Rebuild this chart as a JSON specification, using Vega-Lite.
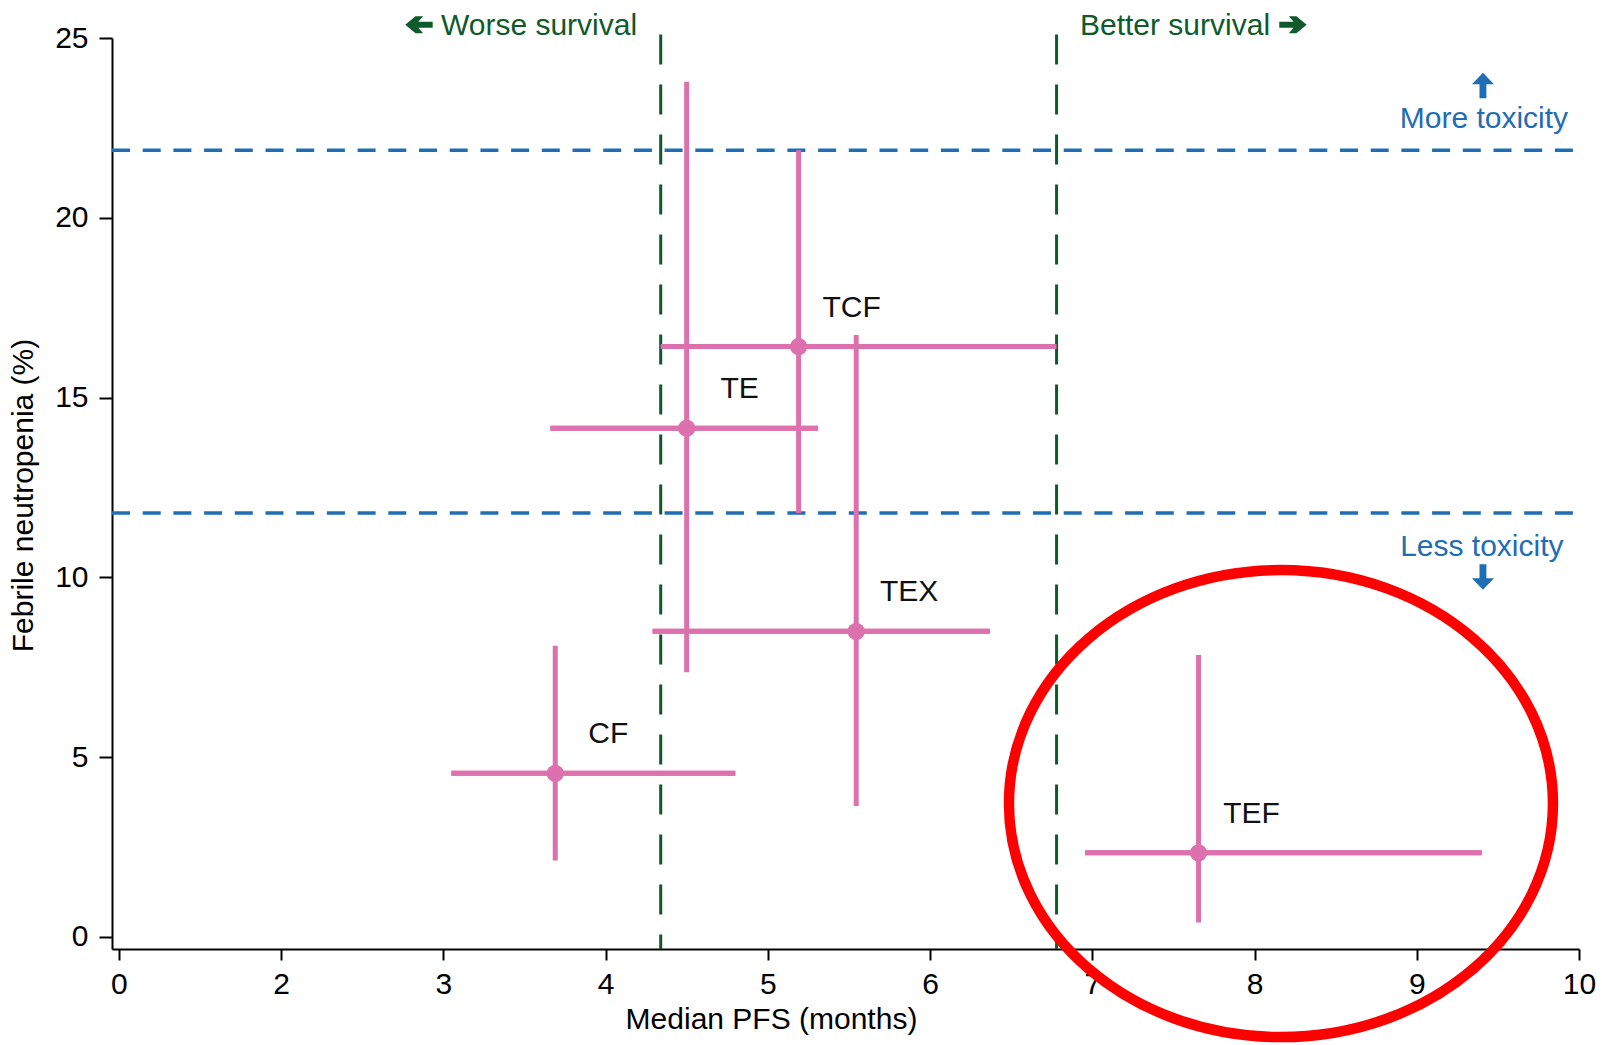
{
  "$schema": "https://vega.github.io/schema/vega-lite/v6.json",
  "width": 1467,
  "height": 911,
  "autosize": {"type": "none"},
  "padding": {"left": 112, "top": 38, "right": 23, "bottom": 96},
  "background": "white",
  "config": {
    "view": {"stroke": null},
    "font": "Liberation Sans",
    "axis": {
      "grid": false,
      "domainColor": "#000000",
      "domainWidth": 2,
      "tickColor": "#000000",
      "tickWidth": 2,
      "labelColor": "#000000",
      "labelFont": "Liberation Sans",
      "labelFontSize": 30,
      "labelFlush": false,
      "labelOverlap": false,
      "titleFont": "Liberation Sans",
      "titleFontSize": 30,
      "titleFontWeight": "normal",
      "titleColor": "#000000"
    }
  },
  "datasets": {
    "trials": [
      {"regimen": "TCF", "pfs": 5.19, "fn": 16.42, "pfs_lo": 4.34, "pfs_hi": 6.78, "fn_lo": 11.79, "fn_hi": 21.88},
      {"regimen": "TE", "pfs": 4.5, "fn": 14.15, "pfs_lo": 3.66, "pfs_hi": 5.31, "fn_lo": 7.36, "fn_hi": 23.78},
      {"regimen": "TEX", "pfs": 5.545, "fn": 8.5, "pfs_lo": 4.29, "pfs_hi": 6.37, "fn_lo": 3.64, "fn_hi": 16.74},
      {"regimen": "CF", "pfs": 3.69, "fn": 4.55, "pfs_lo": 3.05, "pfs_hi": 4.8, "fn_lo": 2.13, "fn_hi": 8.1},
      {"regimen": "TEF", "pfs": 7.655, "fn": 2.34, "pfs_lo": 6.955, "pfs_hi": 9.4, "fn_lo": 0.4, "fn_hi": 7.84}
    ],
    "survivalRef": [{"pfs": 4.34}, {"pfs": 6.78}],
    "toxicityRef": [{"fn": 11.79}, {"fn": 21.88}],
    "highlight": [{"pfs": 8.163, "fn": 3.71}],
    "survivalNotes": [
      {"note": "Worse survival", "pfs": 3.59, "fn": 25.08},
      {"note": "Better survival", "pfs": 7.51, "fn": 25.08}
    ],
    "toxicityNotes": [
      {"note": "More toxicity", "pfs": 9.414, "fn": 22.49},
      {"note": "Less toxicity", "pfs": 9.401, "fn": 10.59}
    ],
    "arrowLeft": [{"pfs": 2.85, "fn": 25.37}],
    "arrowRight": [{"pfs": 8.237, "fn": 25.37}],
    "arrowUp": [{"pfs": 9.408, "fn": 23.68}],
    "arrowDown": [{"pfs": 9.408, "fn": 10.01}]
  },
  "layer": [
    {
      "data": {"name": "trials"},
      "mark": {"type": "rule", "color": "#DD71AD", "strokeWidth": 5},
      "encoding": {
        "x": {
          "field": "pfs_lo", "type": "quantitative",
          "scale": {"domain": [0.958, 10], "nice": false, "zero": false},
          "axis": {
            "title": "Median PFS (months)",
            "values": [1, 2, 3, 4, 5, 6, 7, 8, 9, 10],
            "labelExpr": "datum.value == 1 ? '0' : datum.label",
            "format": "d",
            "tickSize": 11,
            "labelPadding": 33,
            "labelBaseline": "alphabetic",
            "titleX": 659,
            "titleY": 79,
            "titleAnchor": null,
            "titleAlign": "center",
            "titleBaseline": "alphabetic",
            "zindex": 0
          }
        },
        "x2": {"field": "pfs_hi"},
        "y": {
          "field": "fn", "type": "quantitative",
          "scale": {"domain": [-0.334, 25], "nice": false, "zero": false},
          "axis": {
            "title": "Febrile neutropenia (%)",
            "values": [0, 5, 10, 15, 20, 25],
            "format": "d",
            "tickSize": 13,
            "labelPadding": 11,
            "titleX": -89,
            "titleY": 457,
            "titleAngle": -90,
            "titleAnchor": null,
            "titleAlign": "center",
            "titleBaseline": "middle",
            "zindex": 0
          }
        }
      }
    },
    {
      "data": {"name": "toxicityRef"},
      "mark": {"type": "rule", "color": "#1F6DB5", "strokeWidth": 3.5, "strokeDash": [18, 12.7]},
      "encoding": {
        "y": {"field": "fn", "type": "quantitative"},
        "x": {"datum": 0.958, "type": "quantitative"},
        "x2": {"datum": 10.01}
      }
    },
    {
      "data": {"name": "survivalRef"},
      "mark": {"type": "rule", "color": "#0E5A2B", "strokeWidth": 3, "strokeDash": [30, 20]},
      "encoding": {
        "x": {"field": "pfs", "type": "quantitative"},
        "y": {"datum": 25.1, "type": "quantitative"},
        "y2": {"datum": -0.334}
      }
    },
    {
      "data": {"name": "trials"},
      "mark": {"type": "rule", "color": "#DD71AD", "strokeWidth": 5},
      "encoding": {
        "x": {"field": "pfs_lo", "type": "quantitative"},
        "x2": {"field": "pfs_hi"},
        "y": {"field": "fn", "type": "quantitative"}
      }
    },
    {
      "data": {"name": "trials"},
      "mark": {"type": "rule", "color": "#DD71AD", "strokeWidth": 5},
      "encoding": {
        "x": {"field": "pfs", "type": "quantitative"},
        "y": {"field": "fn_lo", "type": "quantitative"},
        "y2": {"field": "fn_hi"}
      }
    },
    {
      "data": {"name": "trials"},
      "mark": {"type": "circle", "size": 300, "color": "#DD71AD", "opacity": 1},
      "encoding": {
        "x": {"field": "pfs", "type": "quantitative"},
        "y": {"field": "fn", "type": "quantitative"}
      }
    },
    {
      "data": {"name": "trials"},
      "mark": {"type": "text", "font": "Liberation Sans", "fontSize": 30, "color": "#111111", "align": "center", "baseline": "alphabetic", "dx": 53, "dy": -30},
      "encoding": {
        "x": {"field": "pfs", "type": "quantitative"},
        "y": {"field": "fn", "type": "quantitative"},
        "text": {"field": "regimen"}
      }
    },
    {
      "data": {"name": "survivalNotes"},
      "mark": {"type": "text", "font": "Liberation Sans", "fontSize": 30, "color": "#0E5A2B", "align": "center", "baseline": "alphabetic"},
      "encoding": {
        "x": {"field": "pfs", "type": "quantitative"},
        "y": {"field": "fn", "type": "quantitative"},
        "text": {"field": "note"}
      }
    },
    {
      "data": {"name": "toxicityNotes"},
      "mark": {"type": "text", "font": "Liberation Sans", "fontSize": 30, "color": "#1F6DB5", "align": "center", "baseline": "alphabetic"},
      "encoding": {
        "x": {"field": "pfs", "type": "quantitative"},
        "y": {"field": "fn", "type": "quantitative"},
        "text": {"field": "note"}
      }
    },
    {
      "data": {"name": "arrowLeft"},
      "mark": {
        "type": "point",
        "shape": "M 1 -0.22 L -0.05 -0.22 L 0.3 -0.62 L -0.25 -0.62 L -1 0 L -0.25 0.62 L 0.3 0.62 L -0.05 0.22 L 1 0.22 Z",
        "size": 751, "filled": true, "color": "#0E5A2B", "strokeWidth": 0, "opacity": 1
      },
      "encoding": {
        "x": {"field": "pfs", "type": "quantitative"},
        "y": {"field": "fn", "type": "quantitative"}
      }
    },
    {
      "data": {"name": "arrowRight"},
      "mark": {
        "type": "point",
        "shape": "M -1 -0.22 L 0.05 -0.22 L -0.3 -0.62 L 0.25 -0.62 L 1 0 L 0.25 0.62 L -0.3 0.62 L 0.05 0.22 L -1 0.22 Z",
        "size": 751, "filled": true, "color": "#0E5A2B", "strokeWidth": 0, "opacity": 1
      },
      "encoding": {
        "x": {"field": "pfs", "type": "quantitative"},
        "y": {"field": "fn", "type": "quantitative"}
      }
    },
    {
      "data": {"name": "arrowUp"},
      "mark": {
        "type": "point",
        "shape": "M -0.27 1 L -0.27 -0.1 L -0.86 -0.1 L 0 -1 L 0.86 -0.1 L 0.27 -0.1 L 0.27 1 Z",
        "size": 655, "filled": true, "color": "#1F6DB5", "strokeWidth": 0, "opacity": 1
      },
      "encoding": {
        "x": {"field": "pfs", "type": "quantitative"},
        "y": {"field": "fn", "type": "quantitative"}
      }
    },
    {
      "data": {"name": "arrowDown"},
      "mark": {
        "type": "point",
        "shape": "M -0.27 -1 L -0.27 0.1 L -0.86 0.1 L 0 1 L 0.86 0.1 L 0.27 0.1 L 0.27 -1 Z",
        "size": 655, "filled": true, "color": "#1F6DB5", "strokeWidth": 0, "opacity": 1
      },
      "encoding": {
        "x": {"field": "pfs", "type": "quantitative"},
        "y": {"field": "fn", "type": "quantitative"}
      }
    },
    {
      "data": {"name": "highlight"},
      "mark": {
        "type": "point",
        "shape": "M -1 0 A 1 0.8585 0 1 0 1 0 A 1 0.8585 0 1 0 -1 0 Z",
        "size": 295936,
        "filled": false,
        "fill": null,
        "stroke": "#FF0000",
        "strokeWidth": 10.5,
        "opacity": 1
      },
      "encoding": {
        "x": {"field": "pfs", "type": "quantitative"},
        "y": {"field": "fn", "type": "quantitative"}
      }
    }
  ]
}
